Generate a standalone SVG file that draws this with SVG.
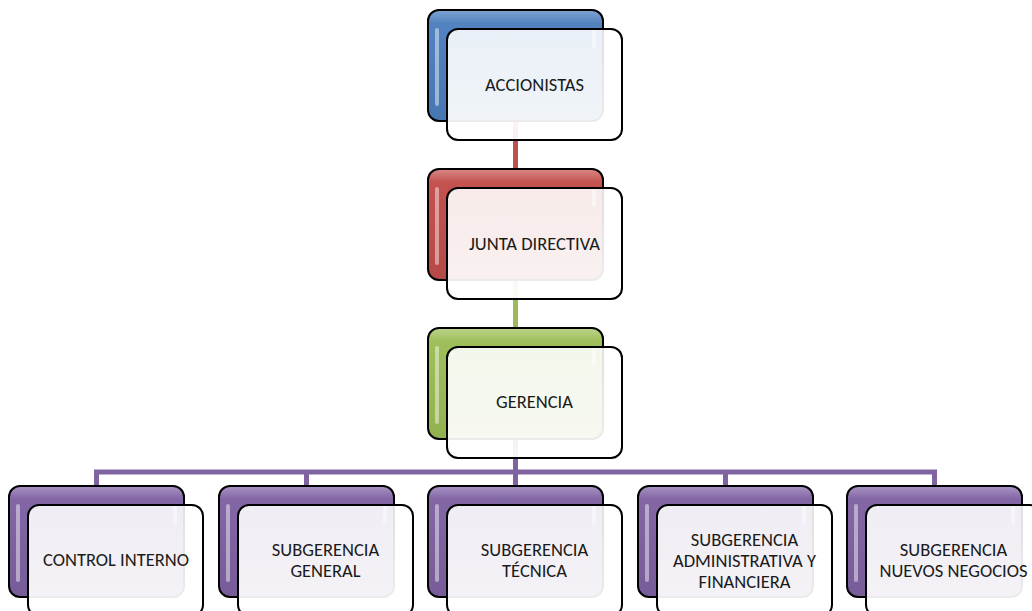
<svg xmlns="http://www.w3.org/2000/svg" width="1032" height="611" viewBox="0 0 1032 611">
<defs>
<linearGradient id="gBlue" x1="0" y1="0" x2="0" y2="1"><stop offset="0" stop-color="#7fa3d2"/><stop offset="0.12" stop-color="#5283c0"/><stop offset="1" stop-color="#4677b3"/></linearGradient>
<linearGradient id="gRed" x1="0" y1="0" x2="0" y2="1"><stop offset="0" stop-color="#d98a87"/><stop offset="0.12" stop-color="#c4524f"/><stop offset="1" stop-color="#b44a47"/></linearGradient>
<linearGradient id="gGreen" x1="0" y1="0" x2="0" y2="1"><stop offset="0" stop-color="#bdd48e"/><stop offset="0.12" stop-color="#9fbf5b"/><stop offset="1" stop-color="#91b04f"/></linearGradient>
<linearGradient id="gPurple" x1="0" y1="0" x2="0" y2="1"><stop offset="0" stop-color="#a994c4"/><stop offset="0.12" stop-color="#8266a5"/><stop offset="1" stop-color="#775c99"/></linearGradient>
<linearGradient id="gFront" x1="0" y1="0" x2="0" y2="1"><stop offset="0" stop-color="#ffffff" stop-opacity="0.88"/><stop offset="1" stop-color="#ffffff" stop-opacity="0.93"/></linearGradient>
</defs>
<style>
.back{stroke:#000;stroke-width:2}
.front{fill:url(#gFront);stroke:#000;stroke-width:2}
.hl{fill:#ffffff;opacity:0.45}
.t{font-family:"Carlito","Liberation Sans",Arial,sans-serif;font-size:18.5px;fill:#1a1a1a;text-anchor:middle}
.c{fill:none;stroke-width:5}
</style>
<g id="connectors">
<line class="c" x1="515.5" y1="121" x2="515.5" y2="170" stroke="#c0504d"/>
<line class="c" x1="515.5" y1="280" x2="515.5" y2="329" stroke="#9bbb59"/>
<path class="c" stroke="#8064a2" d="M515.5 439V472M96.5 487V472H934.5V487M306.5 472V487M515.5 472V487M725.5 472V487"/>
</g>
<g id="accionistas">
<rect class="back" x="428" y="10" width="175" height="111" rx="11" fill="url(#gBlue)"/>
<rect class="hl" x="435" y="28" width="4" height="78" rx="2"/>
<rect class="hl" x="592" y="28" width="4" height="20" rx="2"/>
<rect class="front" x="447" y="29" width="175" height="111" rx="11"/>
<text class="t" x="534.5" y="91">ACCIONISTAS</text>
</g>
<g id="junta">
<rect class="back" x="428" y="169" width="175" height="111" rx="11" fill="url(#gRed)"/>
<rect class="hl" x="435" y="187" width="4" height="78" rx="2"/>
<rect class="hl" x="592" y="187" width="4" height="20" rx="2"/>
<rect class="front" x="447" y="188" width="175" height="111" rx="11"/>
<text class="t" x="534.5" y="250">JUNTA DIRECTIVA</text>
</g>
<g id="gerencia">
<rect class="back" x="428" y="328" width="175" height="111" rx="11" fill="url(#gGreen)"/>
<rect class="hl" x="435" y="346" width="4" height="78" rx="2"/>
<rect class="hl" x="592" y="346" width="4" height="20" rx="2"/>
<rect class="front" x="447" y="347" width="175" height="111" rx="11"/>
<text class="t" x="534.5" y="408">GERENCIA</text>
</g>
<g id="control">
<rect class="back" x="9" y="486" width="175" height="111" rx="11" fill="url(#gPurple)"/>
<rect class="hl" x="16" y="504" width="4" height="78" rx="2"/>
<rect class="hl" x="173" y="504" width="4" height="20" rx="2"/>
<rect class="front" x="28" y="505" width="175" height="111" rx="11"/>
<text class="t" x="116" y="566">CONTROL INTERNO</text>
</g>
<g id="sub-general">
<rect class="back" x="219" y="486" width="175" height="111" rx="11" fill="url(#gPurple)"/>
<rect class="hl" x="226" y="504" width="4" height="78" rx="2"/>
<rect class="hl" x="383" y="504" width="4" height="20" rx="2"/>
<rect class="front" x="238" y="505" width="175" height="111" rx="11"/>
<text class="t" x="325.5" y="556">SUBGERENCIA</text>
<text class="t" x="325.5" y="577">GENERAL</text>
</g>
<g id="sub-tecnica">
<rect class="back" x="428" y="486" width="175" height="111" rx="11" fill="url(#gPurple)"/>
<rect class="hl" x="435" y="504" width="4" height="78" rx="2"/>
<rect class="hl" x="592" y="504" width="4" height="20" rx="2"/>
<rect class="front" x="447" y="505" width="175" height="111" rx="11"/>
<text class="t" x="534.5" y="556">SUBGERENCIA</text>
<text class="t" x="534.5" y="577">TÉCNICA</text>
</g>
<g id="sub-admin">
<rect class="back" x="638" y="486" width="175" height="111" rx="11" fill="url(#gPurple)"/>
<rect class="hl" x="645" y="504" width="4" height="78" rx="2"/>
<rect class="hl" x="802" y="504" width="4" height="20" rx="2"/>
<rect class="front" x="657" y="505" width="175" height="111" rx="11"/>
<text class="t" x="744.5" y="546">SUBGERENCIA</text>
<text class="t" x="744.5" y="567">ADMINISTRATIVA Y</text>
<text class="t" x="744.5" y="588">FINANCIERA</text>
</g>
<g id="sub-nuevos">
<rect class="back" x="847" y="486" width="175" height="111" rx="11" fill="url(#gPurple)"/>
<rect class="hl" x="854" y="504" width="4" height="78" rx="2"/>
<rect class="hl" x="1011" y="504" width="4" height="20" rx="2"/>
<rect class="front" x="866" y="505" width="175" height="111" rx="11"/>
<text class="t" x="953.5" y="556">SUBGERENCIA</text>
<text class="t" x="953.5" y="577">NUEVOS NEGOCIOS</text>
</g>
</svg>
